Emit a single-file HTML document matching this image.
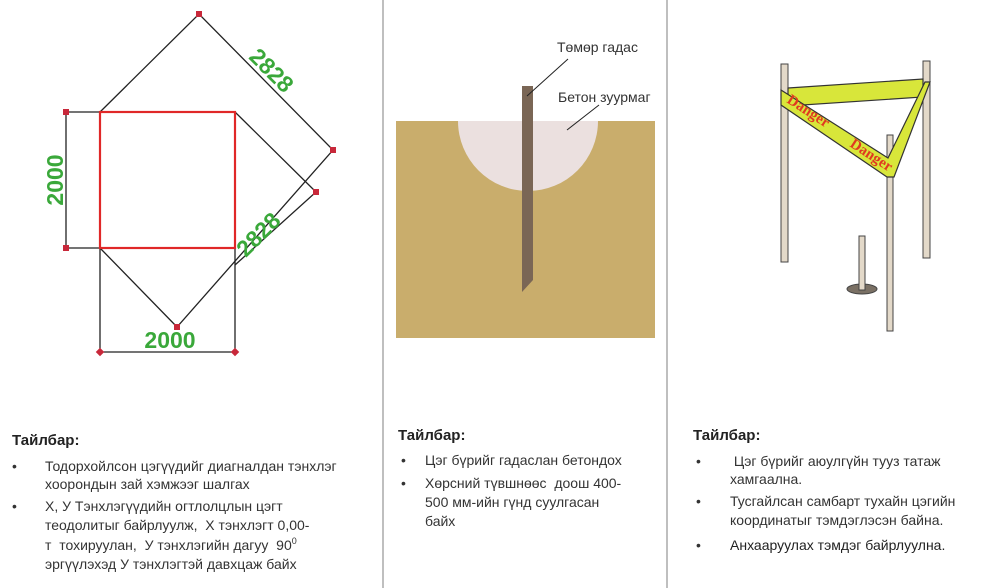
<!DOCTYPE html>
<html><head><meta charset="utf-8"><style>
body{margin:0;width:999px;height:588px;background:#fff;position:relative;overflow:hidden;font-family:"Liberation Sans","DejaVu Sans",sans-serif;color:#333}
.t{position:absolute;font-size:14px;line-height:18px;white-space:nowrap}
.h{position:absolute;font-size:15px;line-height:18px;font-weight:bold;color:#222}
</style></head><body>
<svg width="999" height="588" style="position:absolute;left:0;top:0">
<line x1="383" y1="0" x2="383" y2="588" stroke="#aaa" stroke-width="1.5"/>
<line x1="667" y1="0" x2="667" y2="588" stroke="#aaa" stroke-width="1.5"/>
<g stroke="#222" stroke-width="1.3" fill="none">
<polyline points="100,112 199,14 333,150 177,327 100,248"/>
<polyline points="235,112 316,192 235,265"/>
<polyline points="100,112 66,112 66,248 100,248"/>
<polyline points="100,248 100,352 235,352 235,248"/>
</g>
<rect x="100" y="112" width="135" height="136" fill="none" stroke="#e02828" stroke-width="2.2"/>
<g fill="#c8283a">
<rect x="196" y="11" width="6" height="6"/><rect x="330" y="147" width="6" height="6"/><rect x="313" y="189" width="6" height="6"/>
<rect x="63" y="109" width="6" height="6"/><rect x="63" y="245" width="6" height="6"/><rect x="174" y="324" width="6" height="6"/>
<rect x="97" y="349" width="6" height="6" transform="rotate(45 100 352)"/><rect x="232" y="349" width="6" height="6" transform="rotate(45 235 352)"/>
</g>
<g font-family="Liberation Sans Narrow,Liberation Sans,sans-serif" font-weight="bold" font-size="23" fill="#3aa83a">
<text x="170" y="348" text-anchor="middle">2000</text>
<text transform="translate(63,180) rotate(-90)" text-anchor="middle">2000</text>
<text transform="translate(266,76) rotate(45)" text-anchor="middle">2828</text>
<text transform="translate(264,240) rotate(-45)" text-anchor="middle">2828</text>
</g>
<rect x="396" y="121" width="259" height="217" fill="#c9ad6c"/>
<path d="M458,121 A70,70 0 0 0 598,121 Z" fill="#ebe0df"/>
<rect x="522" y="86" width="11" height="206" fill="#7a6655"/>
<polygon points="522,292 533,280 533,292" fill="#c9ad6c"/>
<line x1="568" y1="59" x2="527" y2="96" stroke="#222"/>
<line x1="599" y1="105" x2="567" y2="130" stroke="#222"/>
<g fill="#e3d9c9" stroke="#444" stroke-width="1">
<rect x="781" y="64" width="7" height="198"/><rect x="923" y="61" width="7" height="197"/>
<ellipse cx="862" cy="289" rx="15" ry="5" fill="#7a7064"/>
<rect x="859" y="236" width="6" height="54"/>
<rect x="887" y="135" width="6" height="196"/>
</g>
<g fill="#d8e63a" stroke="#333" stroke-width="1.2">
<polygon points="788,88 923,79 923,97 788,106"/>
<polygon points="781,90 888,158 925,82 930,82 894,177 887,177 781,105"/>
</g>
<g font-family="Liberation Serif,serif" font-weight="bold" font-size="15" fill="#e03a20">
<text transform="translate(786,102) rotate(33)">Danger</text>
<text transform="translate(849,146) rotate(33)">Danger</text>
</g>
</svg>
<div class="t" style="left:557px;top:38px;color:#333">Төмөр гадас</div>
<div class="t" style="left:558px;top:88px;color:#333">Бетон зуурмаг</div>

<div class="h" style="left:12px;top:432px">Тайлбар:</div>
<div class="t" style="left:12px;top:457px">•</div><div class="t" style="left:45px;top:457px">Тодорхойлсон цэгүүдийг диагналдан тэнхлэг</div>
<div class="t" style="left:45px;top:475px">хоорондын зай хэмжээг шалгах</div>
<div class="t" style="left:12px;top:497px">•</div><div class="t" style="left:45px;top:497px">Х, У Тэнхлэгүүдийн огтлолцлын цэгт</div>
<div class="t" style="left:45px;top:516px">теодолитыг байрлуулж,&nbsp; Х тэнхлэгт 0,00-</div>
<div class="t" style="left:45px;top:536px">т&nbsp; тохируулан,&nbsp; У тэнхлэгийн дагуу&nbsp; 90<span style="font-size:9px;vertical-align:6px;line-height:0">0</span></div>
<div class="t" style="left:45px;top:555px">эргүүлэхэд У тэнхлэгтэй давхцаж байх</div>

<div class="h" style="left:398px;top:427px">Тайлбар:</div>
<div class="t" style="left:401px;top:451px">•</div><div class="t" style="left:425px;top:451px">Цэг бүрийг гадаслан бетондох</div>
<div class="t" style="left:401px;top:474px">•</div><div class="t" style="left:425px;top:474px">Хөрсний түвшнөөс&nbsp; доош 400-</div>
<div class="t" style="left:425px;top:493px">500 мм-ийн гүнд суулгасан</div>
<div class="t" style="left:425px;top:512px">байх</div>

<div class="h" style="left:693px;top:427px">Тайлбар:</div>
<div class="t" style="left:696px;top:452px">•</div><div class="t" style="left:730px;top:452px">&nbsp;Цэг бүрийг аюулгүйн тууз татаж</div>
<div class="t" style="left:730px;top:470px">хамгаална.</div>
<div class="t" style="left:696px;top:492px">•</div><div class="t" style="left:730px;top:492px">Тусгайлсан самбарт тухайн цэгийн</div>
<div class="t" style="left:730px;top:511px">координатыг тэмдэглэсэн байна.</div>
<div class="t" style="left:696px;top:536px">•</div><div class="t" style="left:730px;top:536px;color:#222">Анхааруулах тэмдэг байрлуулна.</div>
</body></html>
